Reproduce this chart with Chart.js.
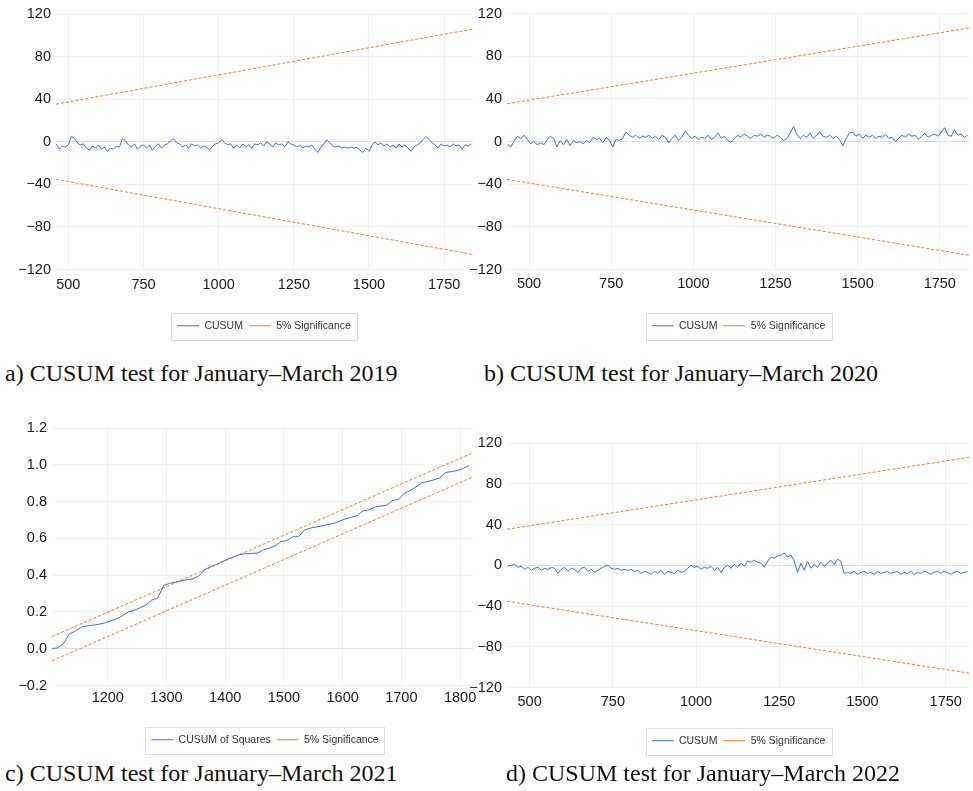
<!DOCTYPE html>
<html>
<head>
<meta charset="utf-8">
<script src="https://cdn.jsdelivr.net/npm/chart.js@4.4.1/dist/chart.umd.min.js"></script>
<style>
  body { margin: 0; background: #fff; width: 973px; height: 791px; position: relative; overflow: hidden; }
  canvas { position: absolute; }
  .caption { position: absolute; font-family: "Liberation Serif", "DejaVu Serif", serif; font-size: 24px; line-height: 24px; color: #111; white-space: nowrap; }
</style>
</head>
<body>
<canvas id="chartA" width="473" height="345" style="left:0;top:0"></canvas>
<canvas id="chartB" width="513" height="345" style="left:460px;top:0"></canvas>
<canvas id="chartC" width="480" height="360" style="left:0;top:400px"></canvas>
<canvas id="chartD" width="513" height="360" style="left:460px;top:400px"></canvas>
<div class="caption" style="left:5px;top:361px">a) CUSUM test for January–March 2019</div>
<div class="caption" style="left:484px;top:361px">b) CUSUM test for January–March 2020</div>
<div class="caption" style="left:5px;top:761px">c) CUSUM test for January–March 2021</div>
<div class="caption" style="left:506px;top:761px">d) CUSUM test for January–March 2022</div>
<script>
// tick labels
const xTicksAbd = [500, 750, 1000, 1250, 1500, 1750];
const xTicksC = [1200, 1300, 1400, 1500, 1600, 1700, 1800];
const yTicksCusum = [-120, -80, -40, 0, 40, 80, 120];
const yTicksSq = [-0.2, 0, 0.2, 0.4, 0.6, 0.8, 1.0, 1.2];

// a) 2019 - observations 460..1840, every 10th read off the plot
const xStartA = 460, xStepA = 10;
const cusumA = [-2, -7, -4, -5, -3, 5, 3, -1, -3, -2, -6, -8, -4, -6, -3, -7, -5, -9, -6, -7,
  -4, -5, 3, 1, -3, -5, -2, -7, -4, -3, -6, -3, -8, -4, -2, -6, -3, -2, 1, 3,
  -1, -2, -5, -3, -6, -2, -4, -3, -6, -4, -5, -8, -4, -2, -1, 2, -1, -3, -2, -6,
  -3, -6, -2, -5, -3, -6, -2, -3, -1, -4, 0, -2, -5, -1, -3, -2, -5, 0, -2, -3,
  -5, -3, -6, -4, -5, -3, -7, -10, -5, -2, 2, -1, -4, -5, -4, -6, -5, -6, -5, -6,
  -5, -8, -10, -6, -9, -3, 0, -3, -1, -4, -2, -5, -3, -6, -2, -5, -3, -6, -9, -5,
  -3, -1, 2, 5, 2, -1, -3, -6, -2, -4, -3, -5, -2, -4, -3, -7, -3, -4, -2];
const sigXA = [459, 1846];
const sigUpA = [35.3, 105.9];
const sigLoA = [-35.3, -105.9];

// b) 2020 - observations 435..1835
const xStartB = 435, xStepB = 10;
const cusumB = [-3, -5, 1, 5, 3, 6, 2, -2, 0, -3, -1, -3, 2, 5, 3, -5, 1, -3, 2, -4,
  1, -1, 0, -2, 1, -1, 4, 2, 3, -1, 4, 1, -5, 2, 1, 3, 9, 6, 4, 6,
  3, 5, 4, 6, 3, 5, 2, 6, 4, -1, 3, 6, 1, 4, 10, 6, 3, 5, 2, 4,
  3, 6, 2, 4, 8, 3, 5, 1, -1, 3, 6, 4, 7, 5, 3, 6, 5, 7, 4, 6,
  5, 3, 6, 4, 1, 3, 8, 14, 7, 3, 6, 4, 8, 3, 6, 9, 5, 4, 6, 3,
  5, 2, -4, 3, 8, 9, 5, 7, 3, 6, 4, 6, 3, 5, 4, 7, 3, 4, 0, 3,
  6, 4, 7, 5, 6, 2, 5, 8, 4, 6, 7, 5, 9, 13, 6, 5, 11, 6, 7, 4, 6];
const sigXB = [433, 1839];
const sigUpB = [35.5, 106.6];
const sigLoB = [-35.5, -106.6];

// c) 2021 - CUSUM of squares, observations 1105..1815
const xStartC = 1105, xStepC = 10;
const cusumSqC = [0.000, 0.005, 0.030, 0.082, 0.095, 0.118, 0.124, 0.128, 0.133, 0.140,
  0.152, 0.161, 0.180, 0.200, 0.208, 0.224, 0.238, 0.265, 0.275, 0.343,
  0.355, 0.362, 0.369, 0.375, 0.380, 0.396, 0.430, 0.445, 0.458, 0.474,
  0.488, 0.500, 0.513, 0.516, 0.518, 0.520, 0.538, 0.546, 0.560, 0.582,
  0.588, 0.608, 0.610, 0.645, 0.656, 0.662, 0.668, 0.675, 0.681, 0.694,
  0.706, 0.715, 0.724, 0.750, 0.755, 0.770, 0.776, 0.780, 0.806, 0.812,
  0.845, 0.860, 0.880, 0.902, 0.910, 0.918, 0.928, 0.958, 0.963, 0.968,
  0.980, 0.995];
const sigXC = [1105, 1822];
const sigUpC = [0.066, 1.066];
const sigLoC = [-0.066, 0.934];

// d) 2022 - observations 435..1815
const xStartD = 435, xStepD = 10;
const cusumD = [-1, 0, 1, -2, -1, -4, -2, -5, -3, -2, -5, -3, -4, -2, -3, -8, -4, -2, -6, -3,
  -4, -7, -3, -2, -6, -4, -7, -5, -3, -1, 0, -3, -4, -3, -5, -4, -5, -4, -6, -5,
  -8, -6, -7, -9, -6, -8, -5, -9, -6, -7, -8, -5, -7, -6, -3, 0, -2, -1, -4, -2,
  -3, -1, -5, -2, -7, -2, 0, -3, 1, -2, 2, -1, 4, 3, 5, 3, 2, -2, 4, 8,
  7, 9, 10, 12, 8, 10, 4, -7, 2, -5, 4, -3, 1, -2, 3, -1, 2, 5, 1, 6,
  4, -8, -7, -8, -6, -9, -7, -6, -8, -7, -9, -6, -8, -7, -6, -8, -7, -6, -9, -7,
  -8, -6, -9, -7, -8, -6, -7, -9, -7, -6, -8, -6, -7, -9, -7, -6, -8, -7, -6];
const sigXD = [432, 1820];
const sigUpD = [35.3, 105.9];
const sigLoD = [-35.3, -105.9];

const blue = '#4472c4';
const orange = '#ed7d31';
const tickFont = { family: '"Liberation Sans", Arial, sans-serif', size: 14.5 };
const legendFont = { family: '"Liberation Sans", Arial, sans-serif', size: 10.5 };

function series(start, step, values) {
  return values.map((y, i) => ({ x: start + i * step, y: y }));
}
function pair(xs, ys) {
  return xs.map((x, i) => ({ x: x, y: ys[i] }));
}
const minusInt = v => (v < 0 ? '\u2212' + Math.abs(v) : String(v));
const minusDec = v => (v < 0 ? '\u2212' : '') + Math.abs(v).toFixed(1);

// moves the legend under the plot area and frames it with a thin grey box
const legendBox = {
  id: 'legendBox',
  afterUpdate(chart, args, opts) {
    const lg = chart.legend;
    if (!lg || !opts.shift) return;
    lg.left += opts.shift;
    lg.right += opts.shift;
    lg.legendHitBoxes.forEach(b => { b.left += opts.shift; });
  },
  afterDraw(chart) {
    const boxes = chart.legend && chart.legend.legendHitBoxes;
    if (!boxes || !boxes.length) return;
    const l = Math.min(...boxes.map(b => b.left)) - 6;
    const r = Math.max(...boxes.map(b => b.left + b.width)) + 6;
    const t = boxes[0].top - 8;
    const h = boxes[0].height + 16;
    const ctx = chart.ctx;
    ctx.save();
    ctx.strokeStyle = '#dedede';
    ctx.lineWidth = 1;
    ctx.strokeRect(Math.round(l) + 0.5, Math.round(t) + 0.5, Math.round(r - l), Math.round(h));
    ctx.restore();
  }
};

function makeChart(id, o) {
  new Chart(document.getElementById(id), {
    type: 'line',
    data: {
      datasets: [
        { label: o.mainLabel, data: o.main, borderColor: blue, borderWidth: 1, pointRadius: 0, tension: 0 },
        { label: '5% Significance', data: o.upper, borderColor: orange, borderWidth: 1, borderDash: [3, 2], pointRadius: 0 },
        { label: 'lower', data: o.lower, borderColor: orange, borderWidth: 1, borderDash: [3, 2], pointRadius: 0 }
      ]
    },
    options: {
      responsive: false,
      animation: false,
      layout: { padding: o.padding },
      plugins: {
        tooltip: { enabled: false },
        legendBox: { shift: o.legendShift },
        legend: {
          position: 'bottom',
          labels: {
            filter: item => item.datasetIndex < 2,
            usePointStyle: true,
            pointStyle: 'line',
            pointStyleWidth: 22,
            padding: 6,
            font: legendFont,
            color: '#333'
          }
        }
      },
      scales: {
        x: {
          type: 'linear',
          min: o.xMin,
          max: o.xMax,
          afterBuildTicks: s => { s.ticks = o.xTicks.map(v => ({ value: v })); },
          afterFit: s => { s.height = o.xHeight; s.paddingLeft = 0; s.paddingRight = 0; },
          grid: { color: '#f1f1f1', drawTicks: false },
          border: { display: false },
          ticks: { padding: o.xPad, font: tickFont, color: '#1a1a1a', maxRotation: 0, autoSkip: false, callback: v => String(v) }
        },
        y: {
          min: o.yMin,
          max: o.yMax,
          afterBuildTicks: s => { s.ticks = o.yTicks.map(v => ({ value: v })); },
          afterFit: s => { s.width = 40; },
          grid: { color: c => (c.tick && c.tick.value === 0 ? '#e0e0e0' : '#f1f1f1'), drawTicks: false },
          border: { display: false },
          ticks: { padding: 5, font: tickFont, color: '#1a1a1a', callback: o.fmt }
        }
      }
    },
    plugins: [legendBox]
  });
}

makeChart('chartA', {
  mainLabel: 'CUSUM',
  main: series(xStartA, xStepA, cusumA),
  upper: pair(sigXA, sigUpA), lower: pair(sigXA, sigLoA),
  xMin: 459, xMax: 1846, xTicks: xTicksAbd,
  yMin: -120, yMax: 120, yTicks: yTicksCusum, fmt: minusInt,
  padding: { top: 14, left: 16, right: 0, bottom: 4 }, xHeight: 45, xPad: 7, legendShift: 19.5
});
makeChart('chartB', {
  mainLabel: 'CUSUM',
  main: series(xStartB, xStepB, cusumB),
  upper: pair(sigXB, sigUpB), lower: pair(sigXB, sigLoB),
  xMin: 433, xMax: 1839, xTicks: xTicksAbd,
  yMin: -120, yMax: 120, yTicks: yTicksCusum, fmt: minusInt,
  padding: { top: 13, left: 7, right: 4, bottom: 4 }, xHeight: 45, xPad: 6, legendShift: 20.5
});
makeChart('chartC', {
  mainLabel: 'CUSUM of Squares',
  main: series(xStartC, xStepC, cusumSqC),
  upper: pair(sigXC, sigUpC), lower: pair(sigXC, sigLoC),
  xMin: 1105, xMax: 1822, xTicks: xTicksC,
  yMin: -0.2, yMax: 1.2, yTicks: yTicksSq, fmt: minusDec,
  padding: { top: 28, left: 12, right: 7, bottom: 5 }, xHeight: 43, xPad: 4, legendShift: 22.5
});
makeChart('chartD', {
  mainLabel: 'CUSUM',
  main: series(xStartD, xStepD, cusumD),
  upper: pair(sigXD, sigUpD), lower: pair(sigXD, sigLoD),
  xMin: 432, xMax: 1820, xTicks: xTicksAbd,
  yMin: -120, yMax: 120, yTicks: yTicksCusum, fmt: minusInt,
  padding: { top: 43, left: 7, right: 4, bottom: 4 }, xHeight: 42, xPad: 6, legendShift: 20.5
});
</script>
</body>
</html>
